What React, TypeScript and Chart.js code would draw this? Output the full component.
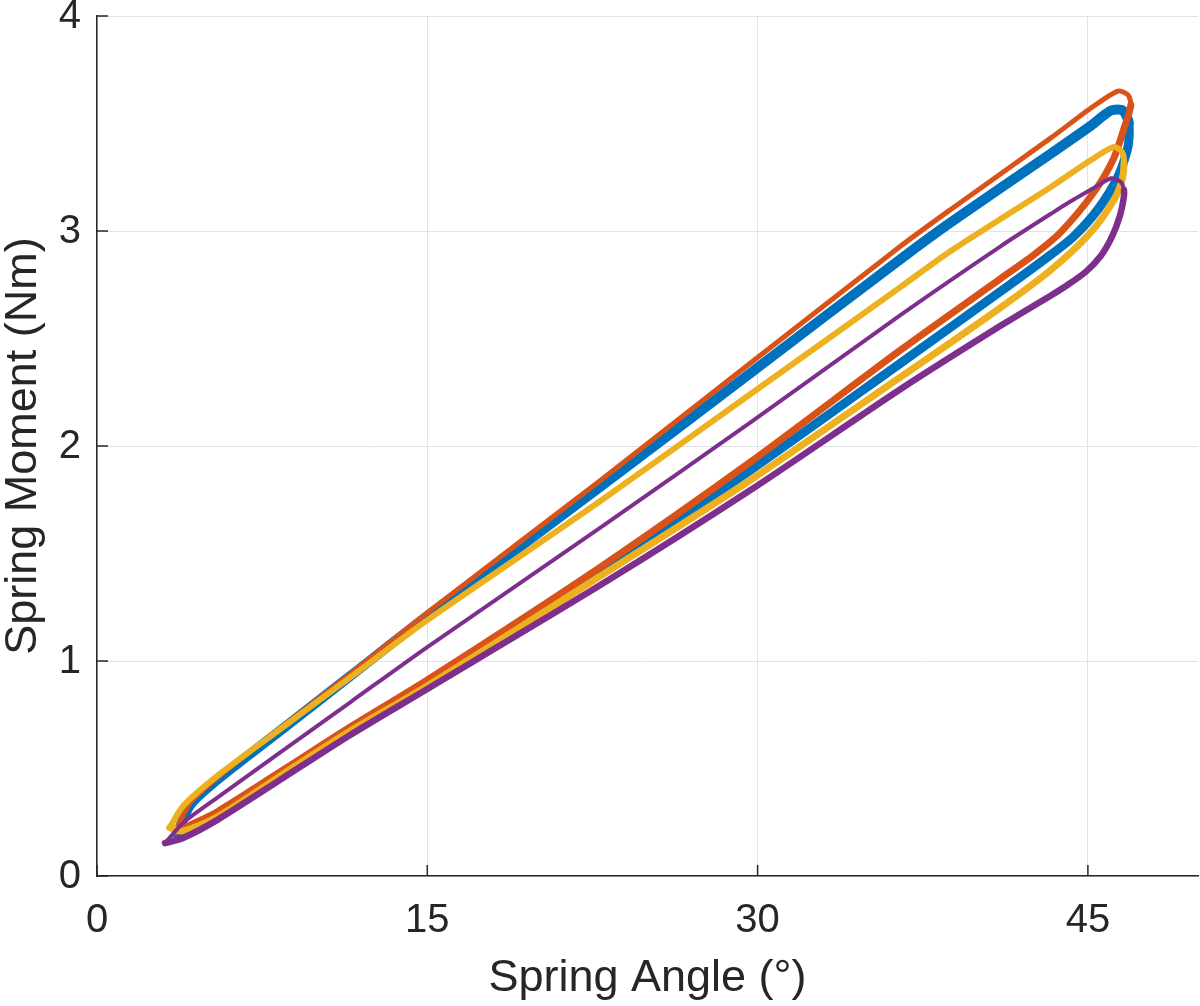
import React, { useEffect, useRef } from "react";
import { Chart, registerables } from "chart.js";

Chart.register(...registerables);

// ---- Data ----
const X_TICKS = [0, 15, 30, 45];
const Y_TICKS = [0, 1, 2, 3, 4];
const X_TITLE = "Spring Angle (°)";
const Y_TITLE = "Spring Moment (Nm)";

const SERIES_NAMES = ["Cycle 1", "Cycle 2", "Cycle 3", "Cycle 4"];
const SERIES_COLORS = ["#0072BD", "#D95319", "#EDB120", "#7E2F8E"];
// [upper branch width, lower branch width]
const SERIES_WIDTHS = [
  [10, 9],
  [5, 7],
  [6, 7],
  [4, 6.5],
];

const BLUE_X = [3.64, 4.23, 5.45, 8.45, 11.5, 15.0, 22.86, 29.68, 36.5, 38.77, 43.32, 45.14, 46.05, 46.59, 46.86,
  46.82, 46.36, 45.45, 44.36, 43.32, 41.05, 36.5, 29.68, 22.86, 15.0, 11.5, 8.45, 5.45, 4.23, 3.64];
const BLUE_Y = [0.195, 0.33, 0.447, 0.686, 0.93, 1.209, 1.81, 2.34, 2.87, 3.04, 3.36, 3.49, 3.56, 3.56, 3.502,
  3.391, 3.251, 3.10, 2.975, 2.89, 2.72, 2.386, 1.888, 1.414, 0.902, 0.684, 0.484, 0.288, 0.228, 0.195];

const ORANGE_X = [3.55, 4.23, 5.45, 8.45, 11.5, 15.0, 22.86, 29.68, 36.5, 38.77, 43.32, 45.14, 46.36, 46.82, 46.95,
  46.68, 46.18, 45.27, 43.77, 42.55, 41.05, 36.5, 29.68, 22.86, 15.0, 11.5, 8.45, 5.45, 4.23, 3.55];
const ORANGE_Y = [0.205, 0.34, 0.456, 0.698, 0.94, 1.225, 1.84, 2.386, 2.93, 3.10, 3.433, 3.572, 3.651, 3.633, 3.586,
  3.49, 3.34, 3.18, 2.995, 2.89, 2.78, 2.447, 1.926, 1.437, 0.912, 0.693, 0.493, 0.298, 0.237, 0.205];

const YELLOW_X = [3.3, 3.91, 5.45, 8.45, 11.5, 15.0, 22.86, 29.68, 36.5, 38.77, 43.32, 45.14, 46.18, 46.55, 46.64,
  46.55, 46.18, 45.14, 43.32, 41.05, 36.5, 29.68, 22.86, 15.0, 11.5, 8.45, 5.45, 3.91, 3.3];
const YELLOW_Y = [0.225, 0.326, 0.465, 0.693, 0.924, 1.19, 1.744, 2.242, 2.74, 2.907, 3.205, 3.33, 3.391, 3.367, 3.316,
  3.237, 3.144, 2.995, 2.819, 2.645, 2.321, 1.842, 1.395, 0.884, 0.674, 0.474, 0.274, 0.209, 0.225];

const PURPLE_X = [3.09, 3.91, 5.45, 8.45, 11.5, 15.0, 22.86, 29.68, 36.5, 41.05, 43.32, 44.09, 45.27, 46.05, 46.5, 46.64,
  46.62, 46.45, 46.1, 45.59, 44.9, 44.09, 43.32, 41.05, 36.5, 29.68, 22.86, 15.0, 11.5, 8.45, 5.45, 3.91, 3.09];
const PURPLE_Y = [0.153, 0.247, 0.363, 0.584, 0.808, 1.065, 1.62, 2.11, 2.61, 2.93, 3.08, 3.13, 3.20, 3.245, 3.228, 3.19,
  3.15, 3.07, 2.975, 2.885, 2.81, 2.75, 2.70, 2.56, 2.265, 1.795, 1.353, 0.87, 0.656, 0.456, 0.26, 0.177, 0.153];

const SERIES_X = [BLUE_X, ORANGE_X, YELLOW_X, PURPLE_X];
const SERIES_Y = [BLUE_Y, ORANGE_Y, YELLOW_Y, PURPLE_Y];

const FONT = "'Liberation Sans', Arial, Helvetica, sans-serif";
const AXIS_COLOR = "#262626";
const GRID_COLOR = "#e2e2e2";

const inwardTicks = {
  id: "inwardTicks",
  afterDatasetsDraw(chart: any) {
    const { ctx, chartArea, scales } = chart;
    const x = scales.x;
    const y = scales.y;
    ctx.save();
    ctx.strokeStyle = AXIS_COLOR;
    ctx.lineWidth = 1.5;
    X_TICKS.forEach((v) => {
      const px = x.getPixelForValue(v);
      ctx.beginPath();
      ctx.moveTo(px, chartArea.bottom);
      ctx.lineTo(px, chartArea.bottom - 11);
      ctx.stroke();
    });
    Y_TICKS.forEach((v) => {
      const py = y.getPixelForValue(v);
      ctx.beginPath();
      ctx.moveTo(chartArea.left, py);
      ctx.lineTo(chartArea.left + 11, py);
      ctx.stroke();
    });
    ctx.restore();
  },
};

export default function App() {
  const canvasRef = useRef<HTMLCanvasElement | null>(null);

  useEffect(() => {
    document.body.style.margin = "0";
    const canvas = canvasRef.current;
    if (!canvas) return;

    const datasets = SERIES_NAMES.map((name, i) => {
      const xs = SERIES_X[i];
      let turn = 0;
      xs.forEach((v, j) => {
        if (v > xs[turn]) turn = j;
      });
      const [wUp, wLow] = SERIES_WIDTHS[i];
      return {
        label: name,
        data: xs.map((xv, j) => ({ x: xv, y: SERIES_Y[i][j] })),
        borderColor: SERIES_COLORS[i],
        backgroundColor: SERIES_COLORS[i],
        borderWidth: wLow,
        segment: {
          borderWidth: (c: any) => (c.p0DataIndex < turn ? wUp : wLow),
        },
        showLine: true,
        pointRadius: 0,
        pointHoverRadius: 0,
        tension: 0.25,
        borderJoinStyle: "round" as const,
        borderCapStyle: "round" as const,
        fill: false,
        order: SERIES_NAMES.length - i,
      };
    });

    const chart = new Chart(canvas, {
      type: "scatter",
      data: { datasets },
      options: {
        responsive: false,
        animation: false,
        maintainAspectRatio: false,
        layout: { padding: { top: 16, right: 2, bottom: 0, left: 0 } },
        plugins: {
          legend: { display: false },
          tooltip: { enabled: false },
        },
        scales: {
          x: {
            type: "linear",
            min: 0,
            max: 50,
            afterBuildTicks: (scale: any) => {
              scale.ticks = X_TICKS.map((v) => ({ value: v }));
            },
            afterFit: (scale: any) => {
              scale.height = 130;
              scale.paddingLeft = 0;
              scale.paddingRight = 0;
            },
            grid: { color: GRID_COLOR, lineWidth: 1, drawTicks: false },
            border: { color: AXIS_COLOR, width: 1.5 },
            ticks: {
              color: "#262626",
              font: { family: FONT, size: 40 },
              padding: 21,
              maxRotation: 0,
              autoSkip: false,
            },
            title: {
              display: true,
              text: X_TITLE,
              color: "#262626",
              font: { family: FONT, size: 45, lineHeight: 1 },
              padding: { top: 0, bottom: 5 },
            },
          },
          y: {
            type: "linear",
            min: 0,
            max: 4,
            afterBuildTicks: (scale: any) => {
              scale.ticks = Y_TICKS.map((v) => ({ value: v }));
            },
            afterFit: (scale: any) => {
              scale.width = 97;
              scale.paddingTop = 0;
              scale.paddingBottom = 0;
            },
            grid: { color: GRID_COLOR, lineWidth: 1, drawTicks: false },
            border: { color: AXIS_COLOR, width: 1.5 },
            ticks: {
              color: "#262626",
              font: { family: FONT, size: 40 },
              padding: 16,
              labelOffset: 1,
              autoSkip: false,
            },
            title: {
              display: true,
              text: Y_TITLE,
              color: "#262626",
              font: { family: FONT, size: 45, lineHeight: 1 },
              padding: { top: 1, bottom: 0 },
            },
          },
        },
      },
      plugins: [inwardTicks],
    });

    return () => {
      chart.destroy();
    };
  }, []);

  return (
    <div style={{ width: 1200, height: 1006, position: "relative", background: "#ffffff" }}>
      <canvas ref={canvasRef} width={1200} height={1006} style={{ display: "block" }} />
    </div>
  );
}
